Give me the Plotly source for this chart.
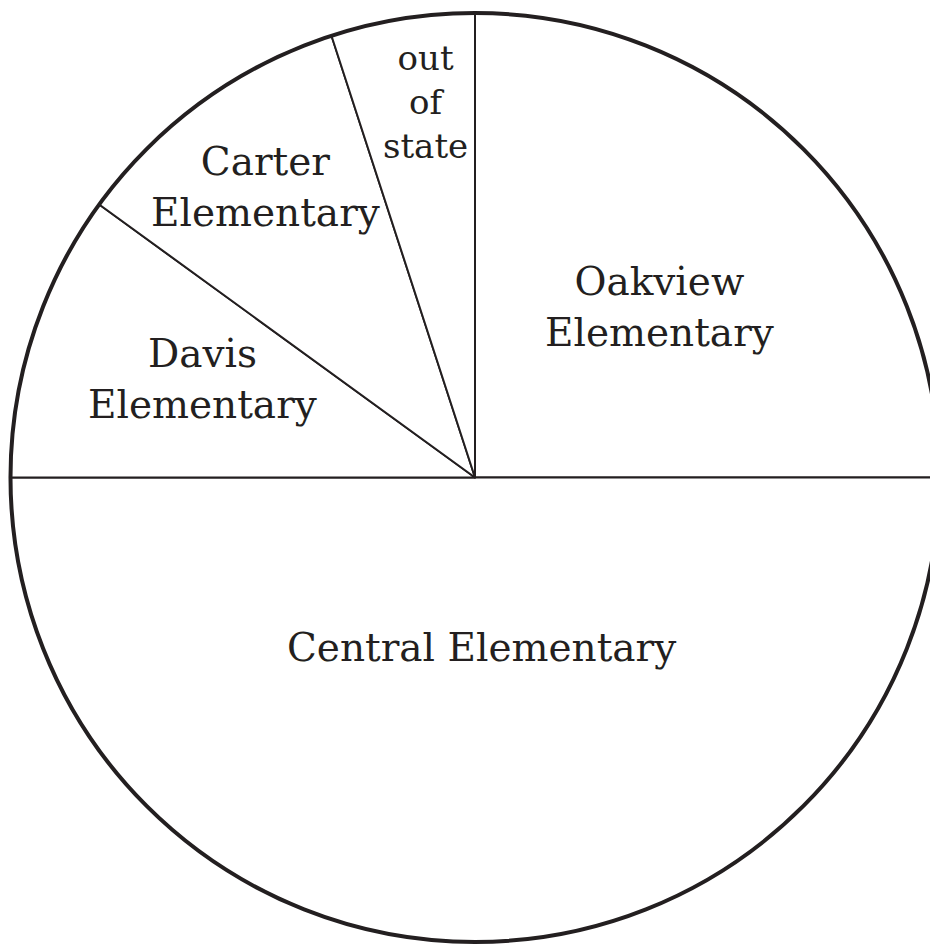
import plotly.graph_objects as go

# Data
labels = ["Oakview Elementary", "Central Elementary", "Davis Elementary",
          "Carter Elementary", "out of state"]
values = [25, 50, 10, 10, 5]
display_text = ["Oakview<br>Elementary", "Central Elementary", "Davis<br>Elementary",
                "Carter<br>Elementary", "out<br>of<br>state"]

W, H = 938, 947
OFF = 8  # page body margin in the browser
CX, CY, R = 475.0 - OFF, 477.5 - OFF, 464.5  # pixel layout of the pie

# label positions (screen pixels) and sizes - layout only
label_pos = [(659, 307), (482, 647), (202, 379), (265, 187), (425, 102)]
label_size = [39, 39, 39, 39, 34]

FONT = "DejaVu Serif"

fig = go.Figure()
fig.add_trace(go.Pie(
    labels=labels,
    values=values,
    sort=False,
    direction="clockwise",
    rotation=0,
    textinfo="none",
    hoverinfo="label+percent",
    marker=dict(colors=["white"] * len(values), line=dict(color="#231f20", width=2)),
    domain=dict(x=[(CX - R) / W, (CX + R) / W],
                y=[1 - (CY + R) / H, 1 - (CY - R) / H]),
    showlegend=False,
))

annotations = []
for txt, (px, py), fs in zip(display_text, label_pos, label_size):
    annotations.append(dict(
        x=(px - OFF) / W, y=1 - (py - OFF) / H, xref="paper", yref="paper",
        text=txt, showarrow=False, xanchor="center", yanchor="middle",
        align="center", font=dict(family=FONT, size=fs, color="#231f20"),
    ))

fig.update_layout(
    width=W, height=H,
    margin=dict(l=0, r=0, t=0, b=0),
    paper_bgcolor="white", plot_bgcolor="white",
    annotations=annotations,
    shapes=[dict(type="circle", xref="paper", yref="paper",
                 x0=(CX - R) / W, x1=(CX + R) / W,
                 y0=1 - (CY + R) / H, y1=1 - (CY - R) / H,
                 line=dict(color="#231f20", width=4), layer="above")],
)

fig.write_html("out.html")
